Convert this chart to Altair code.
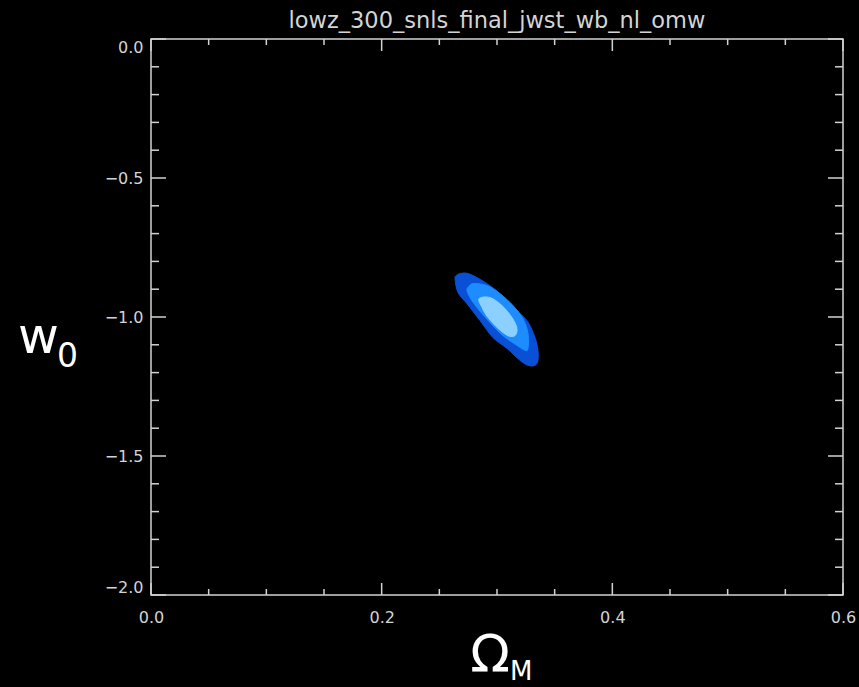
import altair as alt
import pandas as pd

# Plot area size in pixels
W, H = 692, 556

TITLE = "lowz_300_snls_final_jwst_wb_nl_omw"

# Axis ranges and tick values
X_DOMAIN = [0.0, 0.6]
Y_DOMAIN = [-2.0, 0.0]
x_major = [0.0, 0.2, 0.4, 0.6]
x_minor = [0.05, 0.10, 0.15, 0.25, 0.30, 0.35, 0.45, 0.50, 0.55]
y_major = [0.0, -0.5, -1.0, -1.5, -2.0]
y_minor = [-0.1, -0.2, -0.3, -0.4, -0.6, -0.7, -0.8, -0.9,
           -1.1, -1.2, -1.3, -1.4, -1.6, -1.7, -1.8, -1.9]

# Confidence contours in the (Omega_M, w0) plane, outer to inner
outer_om = [0.2636, 0.2650, 0.2679, 0.2730, 0.2792, 0.2913, 0.3026, 0.3139, 0.3260, 0.3329,
            0.3355, 0.3355, 0.3329, 0.3269, 0.3199, 0.3087, 0.2965, 0.2853, 0.2740, 0.2662]
outer_w = [-0.862, -0.850, -0.844, -0.842, -0.851, -0.880, -0.916, -0.966, -1.013, -1.074,
           -1.120, -1.156, -1.174, -1.174, -1.156, -1.113, -1.074, -1.013, -0.952, -0.912]

mid_om = [0.2748, 0.2792, 0.2913, 0.3026, 0.3139, 0.3225, 0.3269, 0.3269, 0.3243,
          0.3173, 0.3052, 0.2939, 0.2827, 0.2766, 0.2740]
mid_w = [-0.894, -0.880, -0.887, -0.916, -0.959, -1.006, -1.059, -1.113, -1.120,
         -1.102, -1.067, -1.020, -0.966, -0.930, -0.905]

inner_om = [0.2844, 0.2939, 0.3043, 0.3130, 0.3173, 0.3156, 0.3095, 0.3009, 0.2922, 0.2870]
inner_w = [-0.934, -0.930, -0.959, -1.002, -1.041, -1.067, -1.067, -1.041, -1.002, -0.966]

COLORS = ["#0a50d6", "#1c8cff", "#8cd0ff"]
FRAME = "#d2d2d2"
LABEL = "#d4d4d4"

xs = alt.Scale(domain=X_DOMAIN, nice=False, zero=False)
ys = alt.Scale(domain=Y_DOMAIN, nice=False, zero=False)

# Label-only axes; the frame and inward ticks are drawn as rules
x_axis = alt.Axis(
    values=x_major, format=".1f", title=None, domain=False, ticks=False, grid=False,
    labelFont="DejaVu Sans", labelFontSize=16, labelColor=LABEL,
    labelPadding=14, labelFlush=False)
y_axis = alt.Axis(
    values=y_major, format=".1f", title=None, domain=False, ticks=False, grid=False,
    labelFont="DejaVu Sans", labelFontSize=16, labelColor=LABEL,
    labelPadding=8, labelFlush=True)


def X(field):
    return alt.X(field, type="quantitative", scale=xs, axis=x_axis)


def Y(field):
    return alt.Y(field, type="quantitative", scale=ys, axis=y_axis)


def contour(om, w, color):
    df = pd.DataFrame({"om": om, "w": w, "i": range(len(om))})
    return alt.Chart(df).mark_line(fill=color, stroke=color, strokeWidth=1,
                                   interpolate="cardinal-closed", clip=True).encode(
        x=X("om"), y=Y("w"), order="i:O",
    )


def xticks(vals, length):
    df = pd.DataFrame({"om": vals})
    bottom = alt.Chart(df).mark_rule(color=FRAME, strokeWidth=1.5).encode(
        x=X("om"), y=alt.value(H), y2=alt.value(H - length))
    top = alt.Chart(df).mark_rule(color=FRAME, strokeWidth=1.5).encode(
        x=X("om"), y=alt.value(0), y2=alt.value(length))
    return bottom + top


def yticks(vals, length):
    df = pd.DataFrame({"w": vals})
    left = alt.Chart(df).mark_rule(color=FRAME, strokeWidth=1.5).encode(
        y=Y("w"), x=alt.value(0), x2=alt.value(length))
    right = alt.Chart(df).mark_rule(color=FRAME, strokeWidth=1.5).encode(
        y=Y("w"), x=alt.value(W), x2=alt.value(W - length))
    return left + right


def label(text, x, y, size, align="left", color="white", font="DejaVu Sans", weight="normal"):
    return alt.Chart(pd.DataFrame({"t": [text]})).mark_text(
        align=align, baseline="alphabetic", fontSize=size, font=font,
        fontWeight=weight, color=color,
    ).encode(text="t:N", x=alt.value(x), y=alt.value(y))


chart = alt.layer(
    contour(outer_om, outer_w, COLORS[0]),
    contour(mid_om, mid_w, COLORS[1]),
    contour(inner_om, inner_w, COLORS[2]),
    xticks(x_major, 12),
    xticks(x_minor, 6),
    yticks(y_major, 15),
    yticks(y_minor, 8),
    label(TITLE, W / 2, -11, 22.5, align="center", color=LABEL),
    label("Ω", 339, 633, 52, align="center"),
    label("M", 359, 641, 26),
    label("w", -133, 314, 50),
    label("0", -94, 328, 33),
).properties(
    width=W,
    height=H,
    autosize=alt.AutoSizeParams(type="none"),
    padding={"left": 151, "top": 39, "right": 16, "bottom": 92},
    background="black",
).configure_view(stroke=FRAME, strokeWidth=1.5)

chart.save("out.html", embed_options={"renderer": "svg", "actions": False})
